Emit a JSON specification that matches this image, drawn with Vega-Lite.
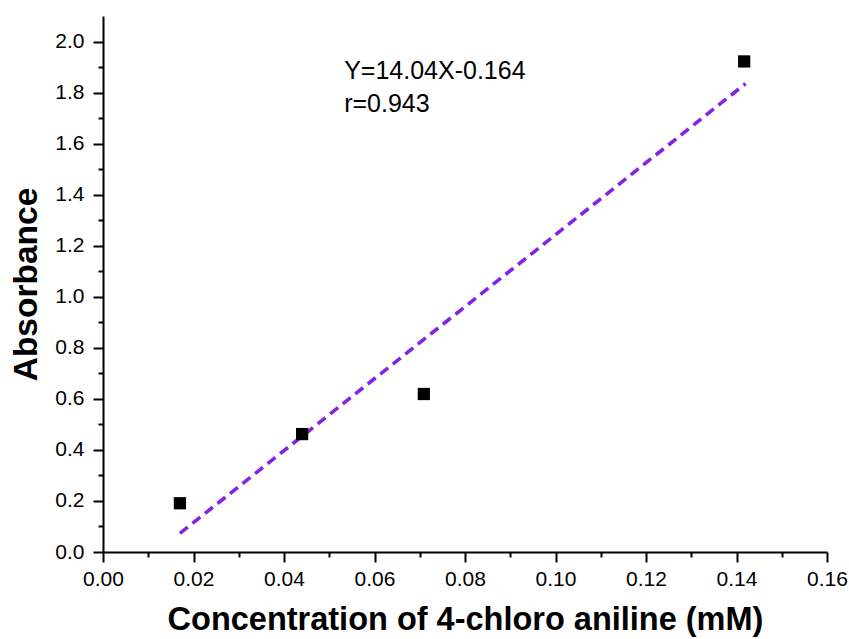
{
  "$schema": "https://vega.github.io/schema/vega-lite/v6.json",
  "width": 724,
  "height": 536,
  "autosize": {"type": "none"},
  "padding": {"left": 103, "top": 16, "right": 22, "bottom": 87},
  "background": "white",
  "config": {
    "view": {"stroke": null},
    "font": "Liberation Sans",
    "axis": {"grid": false, "domainColor": "black", "domainWidth": 2, "tickColor": "black", "tickWidth": 2, "labelColor": "black", "titleColor": "black", "labelFont": "Liberation Sans", "titleFont": "Liberation Sans", "labelFontSize": 21, "titleFontSize": 32, "titleFontWeight": "bold", "labelFlush": false, "labelOverlap": false}
  },
  "resolve": {"axis": {"x": "independent", "y": "independent"}},
  "layer": [
    {
      "data": {"values": [
        {"x": 0.017, "y": 0.073},
        {"x": 0.142, "y": 1.835}
      ]},
      "mark": {"type": "line", "color": "#8422e6", "strokeWidth": 3.6, "strokeDash": [10, 6]},
      "encoding": {
        "x": {"field": "x", "type": "quantitative", "scale": {"domain": [0, 0.16], "nice": false, "zero": false},
          "axis": {"orient": "bottom", "values": [0.01, 0.03, 0.05, 0.07, 0.09, 0.11, 0.13, 0.15], "labels": false, "domain": false, "tickSize": 5, "title": null}},
        "y": {"field": "y", "type": "quantitative", "scale": {"domain": [0, 2.1], "nice": false, "zero": false},
          "axis": {"orient": "left", "values": [0.1, 0.3, 0.5, 0.7, 0.9, 1.1, 1.3, 1.5, 1.7, 1.9], "labels": false, "domain": false, "tickSize": 5, "title": null}}
      }
    },
    {
      "data": {"values": [
        {"conc": 0.017, "abs": 0.191},
        {"conc": 0.044, "abs": 0.462},
        {"conc": 0.0709, "abs": 0.619},
        {"conc": 0.1417, "abs": 1.922}
      ]},
      "mark": {"type": "square", "filled": true, "color": "black", "opacity": 1, "size": 150},
      "encoding": {
        "x": {"field": "conc", "type": "quantitative",
          "axis": {"orient": "bottom", "values": [0, 0.02, 0.04, 0.06, 0.08, 0.1, 0.12, 0.14, 0.16], "format": ".2f", "tickSize": 10, "ticks": true, "labelPadding": 6, "title": "Concentration of 4-chloro aniline (mM)", "titleFontSize": 32.5, "titlePadding": 14}},
        "y": {"field": "abs", "type": "quantitative",
          "axis": {"orient": "left", "values": [0, 0.2, 0.4, 0.6, 0.8, 1.0, 1.2, 1.4, 1.6, 1.8, 2.0], "format": ".1f", "tickSize": 10, "ticks": true, "labelPadding": 9, "title": "Absorbance", "titleFontSize": 33.5, "titlePadding": 11}}
      }
    },
    {
      "data": {"values": [
        {"tx": 0.0533, "ty": 1.883, "label": "Y=14.04X-0.164"},
        {"tx": 0.0533, "ty": 1.757, "label": "r=0.943"}
      ]},
      "mark": {"type": "text", "align": "left", "baseline": "middle", "fontSize": 25, "color": "black", "font": "Liberation Sans"},
      "encoding": {
        "x": {"field": "tx", "type": "quantitative", "axis": null},
        "y": {"field": "ty", "type": "quantitative", "axis": null},
        "text": {"field": "label"}
      }
    }
  ]
}
